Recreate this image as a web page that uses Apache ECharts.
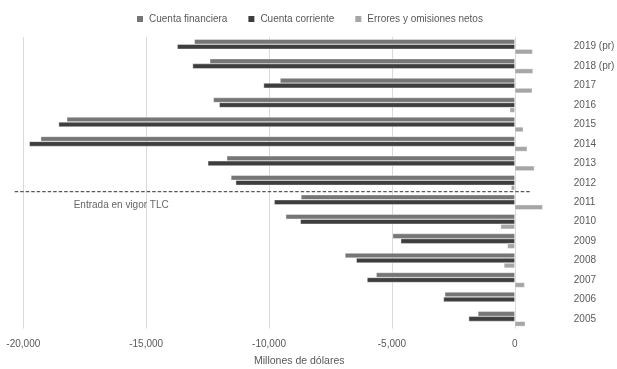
<!DOCTYPE html>
<html>
<head>
<meta charset="utf-8">
<script src="https://cdn.jsdelivr.net/npm/echarts@6/dist/echarts.min.js"></script>
<style>
html,body{margin:0;padding:0;background:#fff;}
#chart{width:617px;height:369px;}
</style>
</head>
<body>
<div id="chart"></div>
<script>
// Categories (bottom to top)
var years = ['2005','2006','2007','2008','2009','2010','2011','2012','2013','2014','2015','2016','2017','2018 (pr)','2019 (pr)'];
var cuentaFinanciera = [-1500,-2850,-5640,-6910,-4970,-9320,-8700,-11550,-11720,-19290,-18230,-12265,-9550,-12410,-13040];
var cuentaCorriente = [-1875,-2900,-6010,-6450,-4640,-8725,-9790,-11355,-12490,-19755,-18560,-12025,-10220,-13110,-13735];
var erroresOmisiones = [425,30,400,-440,-300,-575,1135,-150,795,505,345,-205,710,740,725];
var seriesNames = ['Cuenta financiera','Cuenta corriente','Errores y omisiones netos'];
var xTicks = [-20000,-15000,-10000,-5000,0];
var axisTitle = 'Millones de dólares';
// Annotation: TLC entry into force, between 2012 and 2011
var tlcLabel = 'Entrada en vigor TLC';
var tlcBetween = ['2012','2011'];
var tlcLineExtent = [-20350, 650];
var tlcLabelStart = -17950;

var FONT = '"Liberation Sans", Arial, sans-serif';
var chart = echarts.init(document.getElementById('chart'));
var colors = ['#767676','#3e3e3e','#a6a6a6'];
var dataArr = [cuentaFinanciera, cuentaCorriente, erroresOmisiones];

chart.setOption({
  animation: false,
  color: colors,
  legend: {
    top: 14, left: 135, padding: 0,
    itemWidth: 8, itemHeight: 8, itemGap: 19,
    icon: 'rect',
    textStyle: {fontFamily: FONT, fontSize: 10, color: '#595959'},
    data: seriesNames
  },
  grid: {left: 23.3, right: 102.2, top: 37, bottom: 40.4, containLabel: false, outerBoundsMode: 'none'},
  xAxis: {
    type: 'value', min: xTicks[0], max: xTicks[xTicks.length-1], interval: 5000,
    axisLine: {show: false}, axisTick: {show: false},
    splitLine: {show: true, lineStyle: {color: '#d9d9d9', width: 1}},
    axisLabel: {
      fontFamily: FONT, fontSize: 10, color: '#595959', margin: 11,
      formatter: function(v){ return echarts.format.addCommas(v); }
    }
  },
  yAxis: {
    type: 'category', data: years, position: 'right',
    axisLine: {show: false}, axisTick: {show: false},
    axisLabel: {fontFamily: FONT, fontSize: 10, color: '#595959', margin: 59}
  },
  series: seriesNames.map(function(n, i){
    return {
      name: n, type: 'bar', data: dataArr[i], clip: false,
      barGap: '0%', barCategoryGap: '23%',
      itemStyle: {color: colors[i], borderColor: '#ffffff', borderWidth: 0.4}
    };
  })
});

// Annotation positioned through the chart's own scales
var y1 = chart.convertToPixel({yAxisIndex: 0}, tlcBetween[0]);
var y2 = chart.convertToPixel({yAxisIndex: 0}, tlcBetween[1]);
var yb = (y1 + y2) / 2 - 0.8;
var xa = chart.convertToPixel({xAxisIndex: 0}, tlcLineExtent[0]);
var xb = chart.convertToPixel({xAxisIndex: 0}, tlcLineExtent[1]);
var xt = chart.convertToPixel({xAxisIndex: 0}, tlcLabelStart);
chart.setOption({
  graphic: [{
    type: 'text', left: 254, top: 356,
    style: {text: axisTitle, fontFamily: FONT, fontSize: 10.5, fill: '#595959'}
  }, {
    type: 'line', shape: {x1: xa, y1: yb, x2: xb, y2: yb},
    style: {stroke: '#595959', lineWidth: 1.2, lineDash: [3.5, 2]}, z: 10
  }, {
    type: 'text', x: xt, y: y2 + 3,
    style: {text: tlcLabel, fontFamily: FONT, fontSize: 10, fill: '#666666', verticalAlign: 'middle'}
  }]
});
</script>
</body>
</html>
